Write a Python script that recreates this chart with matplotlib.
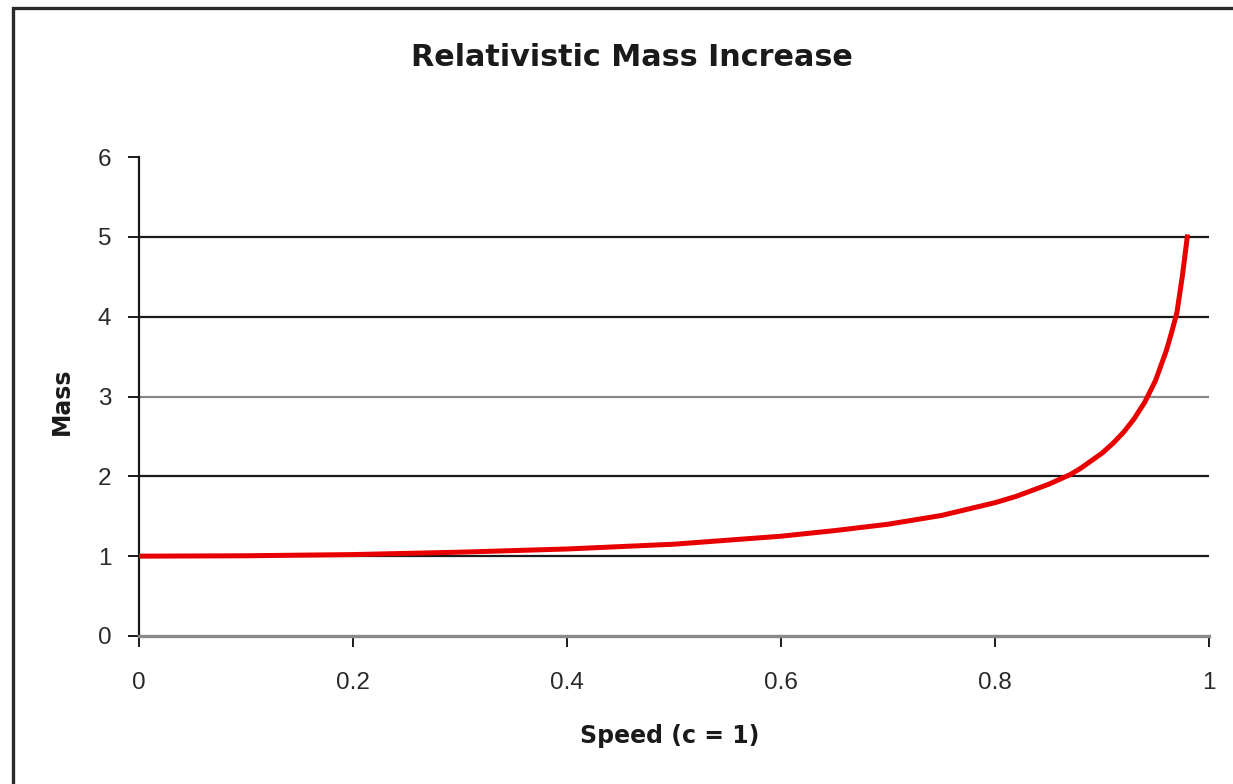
import matplotlib
matplotlib.use("Agg")
import matplotlib.pyplot as plt
from matplotlib.patches import Rectangle

# Speed as a fraction of c, and the corresponding relative mass
speed = [0.00, 0.10, 0.20, 0.30, 0.40, 0.50, 0.55, 0.60, 0.65, 0.70, 0.75,
         0.80, 0.82, 0.85, 0.87, 0.88, 0.90, 0.91, 0.92, 0.93, 0.94, 0.95,
         0.96, 0.965, 0.97, 0.975, 0.98]
mass = [1.00, 1.005, 1.02, 1.05, 1.09, 1.15, 1.20, 1.25, 1.32, 1.40, 1.51,
        1.67, 1.75, 1.90, 2.02, 2.10, 2.29, 2.41, 2.55, 2.72, 2.93, 3.20,
        3.57, 3.80, 4.05, 4.50, 5.03]

x_ticks = [0, 0.2, 0.4, 0.6, 0.8, 1]
x_tick_labels = ["0", "0.2", "0.4", "0.6", "0.8", "1"]
y_ticks = [0, 1, 2, 3, 4, 5, 6]
grid_levels = [1, 2, 3, 4, 5]

title = "Relativistic Mass Increase"
x_label = "Speed (c = 1)"
y_label = "Mass"

plt.rcParams["font.family"] = ["Liberation Sans", "DejaVu Sans"]
label_font = ["DejaVu Sans"]

fig = plt.figure(figsize=(12.33, 7.84), dpi=100)
fig.patch.set_facecolor("white")

# chart-area frame, running off the right and bottom edges
fig.patches.append(Rectangle((13 / 1233, -0.2), 1.5, 1 - 8 / 784 + 0.2,
                             transform=fig.transFigure, fill=False,
                             edgecolor="#2a2a2a", linewidth=2.4, zorder=0))

ax = fig.add_axes([139 / 1233, 1 - 636 / 784, (1209 - 139) / 1233, (636 - 157) / 784])
ax.set_xlim(0, 1)
ax.set_ylim(0, 6)

for lvl in grid_levels:
    ax.axhline(lvl, color="#888888" if lvl == 3 else "#1a1a1a",
               linewidth=1.6, zorder=1)

ax.plot(speed, mass, color="#e80000", linewidth=3.6, solid_capstyle="butt",
        solid_joinstyle="round", zorder=3)

for side in ("top", "right"):
    ax.spines[side].set_visible(False)
ax.spines["left"].set_color("#1a1a1a")
ax.spines["left"].set_linewidth(1.6)
ax.spines["bottom"].set_color("#8a8a8a")
ax.spines["bottom"].set_linewidth(2.4)

ax.set_xticks(x_ticks)
ax.set_xticklabels(x_tick_labels)
ax.set_yticks(y_ticks)
ax.tick_params(axis="both", direction="out", length=8, width=1.4,
               color="#1a1a1a", labelsize=17.5, labelcolor="#2a2a2a")
ax.tick_params(axis="x", pad=18)
ax.tick_params(axis="y", pad=12)

fig.text(632 / 1233, 1 - 58 / 784, title, ha="center", va="center",
         fontsize=21.8, fontweight="bold", color="#1a1a1a", family=label_font)
fig.text(670 / 1233, 1 - 736 / 784, x_label, ha="center", va="center",
         fontsize=17, fontweight="bold", color="#1a1a1a", family=label_font)
fig.text(62 / 1233, 1 - 401 / 784, y_label, ha="center", va="center",
         rotation=90, fontsize=17, fontweight="bold", color="#1a1a1a",
         family=label_font)

fig.savefig("out.png", dpi=100, facecolor="white")
